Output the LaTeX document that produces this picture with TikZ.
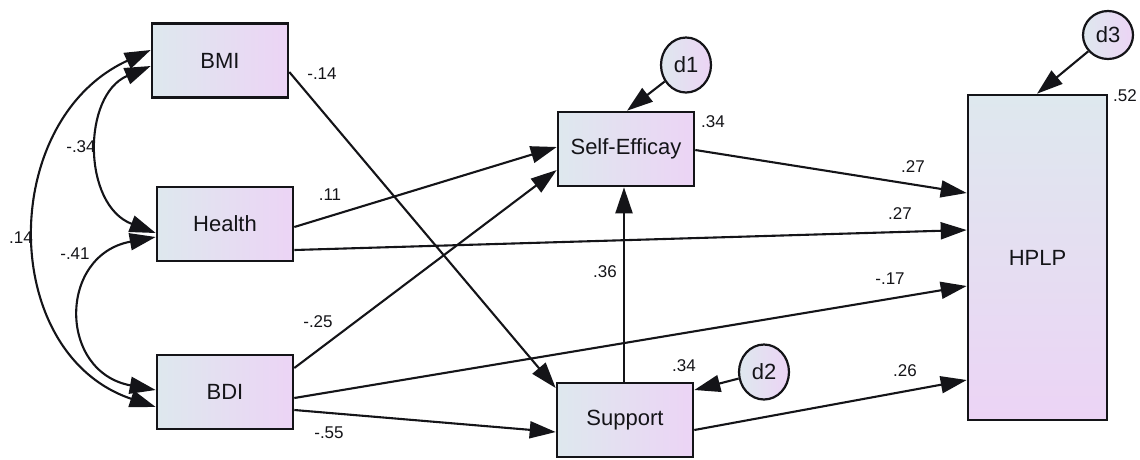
\documentclass[tikz,border=0pt]{standalone}
\usepackage{fontspec}
\setsansfont{Liberation Sans}
\usetikzlibrary{arrows.meta,shapes.geometric}
\definecolor{ink}{RGB}{20,20,24}
\definecolor{shadeL}{RGB}{222,232,238}
\definecolor{shadeR}{RGB}{236,212,245}
\begin{document}
\begin{tikzpicture}[x=1pt,y=-1pt,
  var/.style={draw=ink,line width=2.6pt,left color=shadeL,right color=shadeR,minimum width=136pt,minimum height=74pt,inner sep=0pt,text=ink,font=\sffamily\fontsize{22}{26}\selectfont},
  err/.style={ellipse,draw=ink,line width=2.2pt,left color=shadeL,right color=shadeR,minimum width=50pt,minimum height=55pt,inner sep=0pt,text=ink,font=\sffamily\fontsize{22}{26}\selectfont},
  arr/.style={draw=ink,line width=2.1pt,-{Triangle[length=26pt,width=17pt]}},
  corr/.style={draw=ink,line width=2.1pt,{Triangle[length=26pt,width=17pt]}-{Triangle[length=26pt,width=17pt]}},
  est/.style={inner sep=0pt,text=ink,font=\sffamily\fontsize{17}{20}\selectfont}]
\useasboundingbox (0,0) rectangle (1140,459);
% observed variables
\node[var] (bmi) at (220,60.5) {BMI};
\node[var] (health) at (225,224) {Health};
\node[var] (bdi) at (225,392) {BDI};
\node[var] (self) at (626,149) {Self-Efficay};
\node[var] (support) at (625,420) {Support};
\node[var,minimum width=139pt,minimum height=325pt,top color=shadeL,bottom color=shadeR] (hplp) at (1037.5,257.5) {HPLP};
% error terms
\node[err] (d1) at (686,65) {d1};
\node[err] (d2) at (764,372) {d2};
\node[err,minimum height=48pt] (d3) at (1108,35) {d3};
% covariances
\draw[corr] (bmi.west |- 0,66) .. controls (82,95) and (82,205) .. (health.west |- 0,233);
\draw[corr] (health.west |- 0,237) .. controls (58,255) and (58,372) .. (bdi.west |- 0,390);
\draw[corr] (bmi.west |- 0,50) .. controls (-2,120) and (-2,354) .. (bdi.west |- 0,407);
% paths
\draw[arr] (bmi.east |- 0,72) -- (support.west |- 0,388);
\draw[arr] (health.east |- 0,227) -- (self.west |- 0,147);
\draw[arr] (health.east |- 0,250) -- (hplp.west |- 0,230);
\draw[arr] (bdi.east |- 0,368) -- (self.west |- 0,170);
\draw[arr] (bdi.east |- 0,398) -- (hplp.west |- 0,286);
\draw[arr] (bdi.east |- 0,410) -- (support.west |- 0,432);
\draw[arr] (self.east |- 0,150) -- (hplp.west |- 0,193);
\draw[arr] (support.north -| 624,0) -- (self.south -| 624,0);
\draw[arr] (support.east |- 0,430) -- (hplp.west |- 0,380);
\draw[arr] (d1) -- (self.north -| 627,0);
\draw[arr] (d2) -- (support.east |- 0,390);
\draw[arr] (d3) -- (hplp.north -| 1037,0);
% estimates
\node[est] (e1) at (322,74) {-.14};
\node[est] (e2) at (81,147) {-.34};
\node[est] (e3) at (330,195) {.11};
\node[est] (e4) at (21,238) {.14};
\node[est] (e5) at (75,254) {-.41};
\node[est] (e6) at (318,322) {-.25};
\node[est] (e7) at (329,433) {-.55};
\node[est] (e8) at (713,122) {.34};
\node[est] (e9) at (684,366) {.34};
\node[est] (e10) at (913,167) {.27};
\node[est] (e11) at (900,214) {.27};
\node[est] (e12) at (890,279) {-.17};
\node[est] (e13) at (905,371) {.26};
\node[est] (e14) at (1125,96) {.52};
\node[est] (e15) at (605,272) {.36};
\end{tikzpicture}
\end{document}
